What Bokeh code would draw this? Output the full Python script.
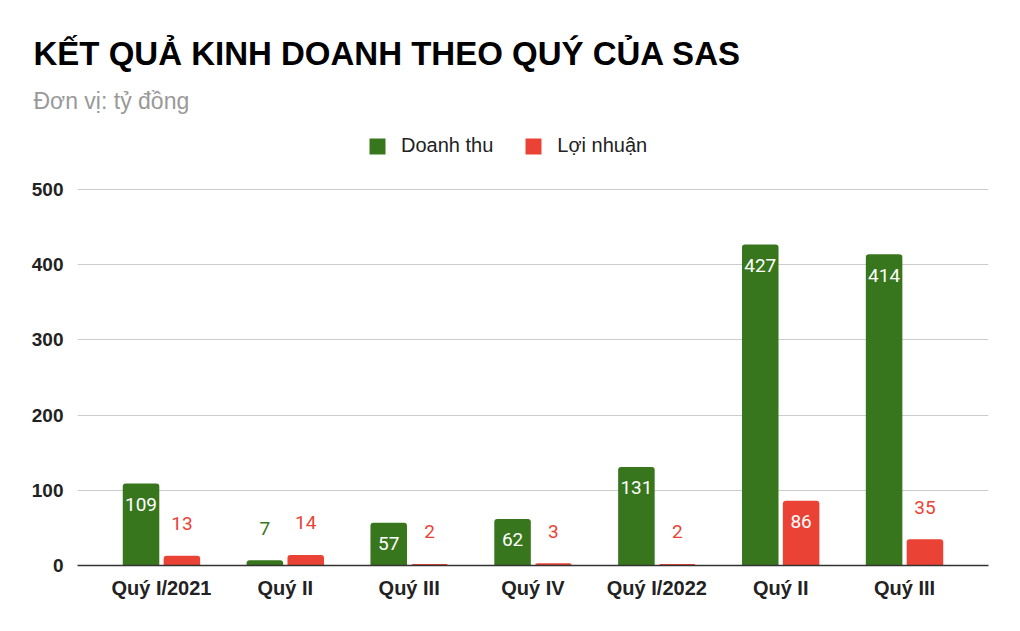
from bokeh.plotting import figure
from bokeh.models import (ColumnDataSource, Range1d, FixedTicker, Title, Legend, LegendItem)
from bokeh.transform import dodge
from bokeh.core.properties import value
from bokeh.embed import file_html
from bokeh.resources import INLINE

# ---- data ----
quarters = ["Quý I/2021", "Quý II", "Quý III", "Quý IV", "Quý I/2022", "Quý II", "Quý III"]
doanh_thu = [109, 7, 57, 62, 131, 427, 414]
loi_nhuan = [13, 14, 2, 3, 2, 86, 35]
yticks = [0, 100, 200, 300, 400, 500]

GREEN = "#38761d"
RED = "#ea4335"
INSIDE_MIN = 40  # labels fit inside the bar above this value

idx = list(range(len(quarters)))

def label_data(vals, color):
    colors, offs = [], []
    for v in vals:
        if v >= INSIDE_MIN:
            colors.append("white"); offs.append(21)
        else:
            colors.append(color); offs.append(-32)
    return colors, offs

dt_col, dt_off = label_data(doanh_thu, GREEN)
ln_col, ln_off = label_data(loi_nhuan, RED)

src = ColumnDataSource(dict(
    x=idx, dt=doanh_thu, ln=loi_nhuan,
    dt_txt=[str(v) for v in doanh_thu], ln_txt=[str(v) for v in loi_nhuan],
    dt_col=dt_col, ln_col=ln_col, dt_off=dt_off, ln_off=ln_off,
))

FRAME_TOP = 120
FRAME_BOTTOM = 565
H = 615
plot_h = FRAME_BOTTOM - FRAME_TOP
y_end = 500 * plot_h / (FRAME_BOTTOM - 189)

p = figure(width=1004, height=H, output_backend="svg", toolbar_location=None,
           x_range=Range1d(-0.5 - 0.178, len(quarters) - 0.5 + 0.178),
           y_range=Range1d(0, y_end),
           min_border_left=77, min_border_right=16,
           min_border_top=FRAME_TOP, min_border_bottom=H - FRAME_BOTTOM)
p.outline_line_color = None
p.background_fill_color = "white"
p.border_fill_color = "white"

OFF = 0.165
W = 0.295
r1 = p.vbar(x=dodge("x", -OFF, range=p.x_range), top="dt", width=W, source=src,
            fill_color=GREEN, line_color=None, border_radius=(3, 3, 0, 0))
r2 = p.vbar(x=dodge("x", OFF, range=p.x_range), top="ln", width=W, source=src,
            fill_color=RED, line_color=None, border_radius=(3, 3, 0, 0))

p.text(x=dodge("x", -OFF, range=p.x_range), y="dt", text="dt_txt", source=src,
       y_offset="dt_off", text_color="dt_col", text_align="center", text_baseline="middle",
       text_font=value("Roboto"), text_font_size="19px")
p.text(x=dodge("x", OFF, range=p.x_range), y="ln", text="ln_txt", source=src,
       y_offset="ln_off", text_color="ln_col", text_align="center", text_baseline="middle",
       text_font=value("Roboto"), text_font_size="19px")

# axes
p.xaxis.ticker = FixedTicker(ticks=idx)
p.xaxis.major_label_overrides = {i: q for i, q in zip(idx, quarters)}
p.xaxis.major_tick_line_color = None
p.xaxis.minor_tick_line_color = None
p.xaxis.axis_line_color = "#333333"
p.xaxis.axis_line_width = 1.5
p.xaxis.major_label_text_font = "Liberation Sans"
p.xaxis.major_label_text_font_style = "bold"
p.xaxis.major_label_text_font_size = "20px"
p.xaxis.major_label_text_color = "#222222"
p.xaxis.major_label_standoff = 5

p.yaxis.ticker = FixedTicker(ticks=yticks)
p.yaxis.axis_line_color = None
p.yaxis.major_tick_line_color = None
p.yaxis.minor_tick_line_color = None
p.yaxis.major_label_text_font = "Liberation Sans"
p.yaxis.major_label_text_font_style = "bold"
p.yaxis.major_label_text_font_size = "19px"
p.yaxis.major_label_text_color = "#222222"
p.yaxis.major_label_standoff = 8

p.xgrid.grid_line_color = None
p.ygrid.grid_line_color = "#cccccc"
p.ygrid.grid_line_width = 1.2

legend = Legend(items=[LegendItem(label="Doanh thu", renderers=[r1]),
                       LegendItem(label="Lợi nhuận", renderers=[r2])],
                orientation="horizontal", location=(290, plot_h - 37),
                label_text_font="Liberation Sans", label_text_font_size="20px",
                label_text_color="#222222",
                glyph_width=20, glyph_height=20, label_standoff=14, spacing=30,
                border_line_alpha=0, background_fill_alpha=0, margin=0, padding=0)
p.add_layout(legend)

sub = Title(text="Đơn vị: tỷ đồng", text_font="Liberation Sans", text_font_size="23px",
            text_font_style="normal", text_color="#999999", align="left", offset=-44,
            standoff=14)
p.add_layout(sub, "above")
ttl = Title(text="KẾT QUẢ KINH DOANH THEO QUÝ CỦA SAS", text_font="Liberation Sans",
            text_font_size="33px", text_font_style="bold", text_color="#000000",
            align="left", offset=-44, standoff=14)
p.add_layout(ttl, "above")

open("out.html", "w").write(file_html(p, INLINE))
